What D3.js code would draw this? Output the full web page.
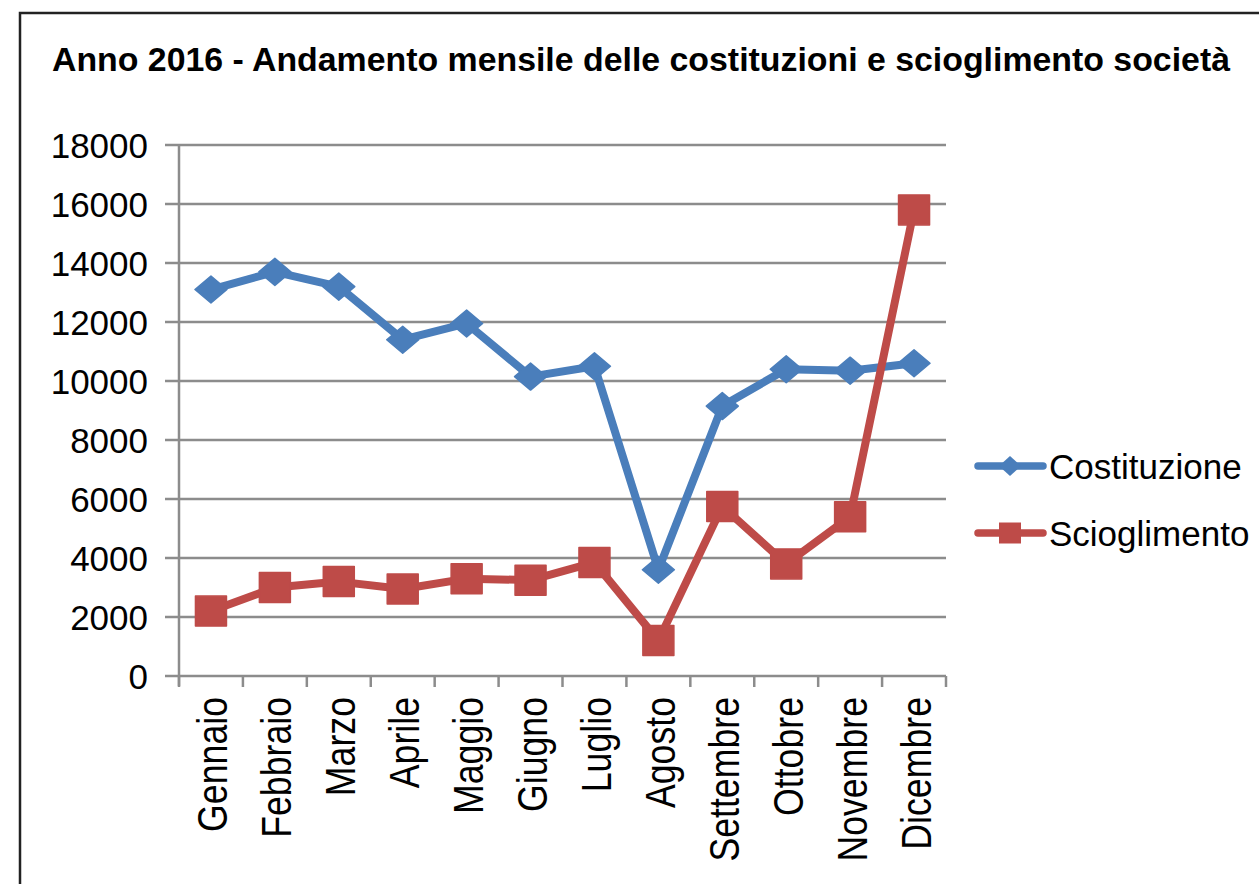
<!DOCTYPE html>
<html>
<head>
<meta charset="utf-8">
<script src="https://cdn.jsdelivr.net/npm/d3@7"></script>
<style>
  html, body { margin: 0; padding: 0; background: #fff; }
  svg { display: block; }
  text { font-family: "Liberation Sans", Arial, Helvetica, sans-serif; fill: #000; }
</style>
</head>
<body>
<svg id="chart" width="1259" height="884"></svg>
<script>
// Monthly company registrations and dissolutions, 2016
const months = ["Gennaio", "Febbraio", "Marzo", "Aprile", "Maggio", "Giugno",
                "Luglio", "Agosto", "Settembre", "Ottobre", "Novembre", "Dicembre"];
const costituzione = [13100, 13700, 13200, 11400, 11950, 10150, 10500, 3600, 9150, 10400, 10350, 10600];
const scioglimento = [2200, 3000, 3200, 2950, 3300, 3250, 3850, 1200, 5750, 3800, 5400, 15800];
const yTicks = [0, 2000, 4000, 6000, 8000, 10000, 12000, 14000, 16000, 18000];
const seriesNames = ["Costituzione", "Scioglimento"];
const title = "Anno 2016 - Andamento mensile delle costituzioni e scioglimento società";

const colors = { Costituzione: "#4A7EBB", Scioglimento: "#BE4B48" };

const svg = d3.select("#chart");

// outer frame
svg.append("rect")
  .attr("x", 20).attr("y", 13)
  .attr("width", 1300).attr("height", 900)
  .attr("fill", "none").attr("stroke", "#222").attr("stroke-width", 2.5);

// title
svg.append("text")
  .attr("x", 52).attr("y", 71)
  .attr("font-size", 33).attr("font-weight", "bold")
  .attr("fill", "#222")
  .attr("textLength", 1178).attr("lengthAdjust", "spacingAndGlyphs")
  .text(title);

const plot = { left: 179, right: 946, top: 145, bottom: 676 };

const x = d3.scaleBand().domain(months).range([plot.left, plot.right]).padding(0);
const y = d3.scaleLinear().domain([0, 18000]).range([plot.bottom, plot.top]);

// horizontal gridlines with outside tick marks
const grid = svg.append("g");
grid.selectAll("line").data(yTicks).join("line")
  .attr("x1", plot.left - 14).attr("x2", plot.right)
  .attr("y1", d => y(d)).attr("y2", d => y(d))
  .attr("stroke", "#8c8c8c").attr("stroke-width", 2.5);

// y axis line
svg.append("line")
  .attr("x1", plot.left).attr("x2", plot.left)
  .attr("y1", plot.top).attr("y2", plot.bottom + 10)
  .attr("stroke", "#8c8c8c").attr("stroke-width", 2.5);

// y labels
svg.append("g").selectAll("text").data(yTicks).join("text")
  .attr("x", 148).attr("y", d => y(d))
  .attr("dy", "0.36em")
  .attr("text-anchor", "end")
  .attr("font-size", 35)
  .text(d => d);

// x axis with category boundary ticks
const xAxis = d3.axisBottom(x).tickSize(0).tickFormat("");
const xg = svg.append("g").attr("transform", `translate(0,${plot.bottom})`).call(xAxis);
xg.select(".domain").remove();
const boundaries = months.map(m => x(m)).concat([x(months[months.length - 1]) + x.bandwidth()]);
xg.selectAll("line.bound").data(boundaries).join("line")
  .attr("class", "bound")
  .attr("x1", d => d).attr("x2", d => d)
  .attr("y1", 0).attr("y2", 11)
  .attr("stroke", "#8c8c8c").attr("stroke-width", 2.5);

// rotated month labels (tall, narrow lettering)
svg.append("g").selectAll("text").data(months).join("text")
  .attr("transform", d => `translate(${x(d) + x.bandwidth() / 2 + 1},${plot.bottom + 21}) rotate(-90) scale(0.83,1)`)
  .attr("text-anchor", "end")
  .attr("dy", "0.36em")
  .attr("font-size", 43)
  .text(d => d);

const line = d3.line()
  .x((d, i) => x(months[i]) + x.bandwidth() / 2)
  .y(d => y(d));

// flattened diamond marker: width w, height h
function diamondPath(w, h) {
  return `M${-w / 2},0L0,${-h / 2}L${w / 2},0L0,${h / 2}Z`;
}
function squarePath(w, h) {
  return `M${-w / 2},${-h / 2}H${w / 2}V${h / 2}H${-w / 2}Z`;
}

function drawSeries(values, name, shapeD) {
  const g = svg.append("g");
  g.append("path").datum(values)
    .attr("d", line)
    .attr("fill", "none")
    .attr("stroke", colors[name])
    .attr("stroke-width", 8)
    .attr("stroke-linejoin", "round");
  g.selectAll("path.mk").data(values).join("path")
    .attr("class", "mk")
    .attr("transform", (d, i) => `translate(${x(months[i]) + x.bandwidth() / 2},${y(d)})`)
    .attr("d", shapeD)
    .attr("fill", colors[name])
    .attr("stroke", colors[name])
    .attr("stroke-width", 1.5)
    .attr("stroke-linejoin", "round");
}

drawSeries(costituzione, "Costituzione", diamondPath(32, 27));
drawSeries(scioglimento, "Scioglimento", squarePath(31, 30));

// legend
const legend = svg.append("g");
const legendItems = [
  { name: seriesNames[0], d: diamondPath(22, 20), y: 466 },
  { name: seriesNames[1], d: squarePath(22, 21), y: 533 }
];
legendItems.forEach(it => {
  legend.append("line")
    .attr("x1", 978).attr("x2", 1043)
    .attr("y1", it.y).attr("y2", it.y)
    .attr("stroke", colors[it.name]).attr("stroke-width", 7.5)
    .attr("stroke-linecap", "round");
  legend.append("path")
    .attr("transform", `translate(1010,${it.y})`)
    .attr("d", it.d)
    .attr("fill", colors[it.name]);
  legend.append("text")
    .attr("x", 1049).attr("y", it.y)
    .attr("dy", "0.36em")
    .attr("font-size", 35)
    .text(it.name);
});
</script>
</body>
</html>
